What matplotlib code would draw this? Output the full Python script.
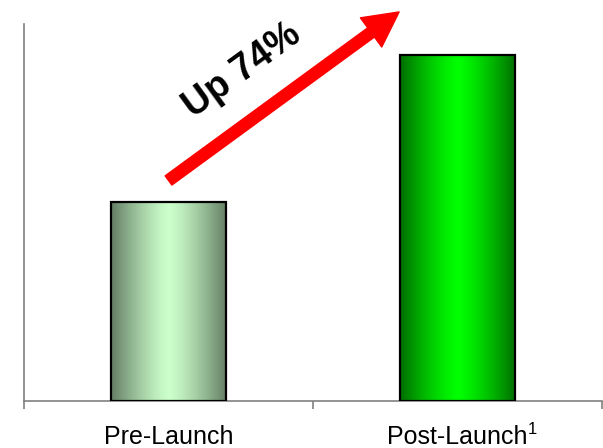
import numpy as np
import matplotlib
matplotlib.use("Agg")
import matplotlib.pyplot as plt
from matplotlib.colors import to_rgb

plt.rcParams['font.family'] = ['Liberation Sans', 'DejaVu Sans']

# data
categories = ["Pre-Launch", "Post-Launch"]
footnotes = ["", "1"]
values = [100, 174]
change_label = "Up 74%"

# gradient colours for each bar: (edge, centre)
bar_colors = [("#647d64", "#ccffcc"), ("#006e00", "#00ff00")]

fig = plt.figure(figsize=(6.03, 4.48), dpi=100)
ax = fig.add_axes([24 / 603, 1 - 401 / 448, 578 / 603, 377 / 448])

x = np.arange(len(categories))
width = 0.4
bars = ax.bar(x, values, width=width, facecolor="none", edgecolor="black",
              linewidth=1.6, zorder=3)

# horizontal two-tone gradient inside each bar
n = 256
t = np.abs(np.linspace(-1, 1, n))
for bar, (edge, centre) in zip(bars, bar_colors):
    e = np.array(to_rgb(edge))
    c = np.array(to_rgb(centre))
    grad = c[None, :] + (e - c)[None, :] * t[:, None] ** 1.3
    img = ax.imshow(grad[None, :, :], aspect="auto", interpolation="bilinear",
                    extent=(bar.get_x(), bar.get_x() + bar.get_width(),
                            0, bar.get_height()), zorder=2)
    img.set_clip_path(bar)

ax.set_xlim(-0.5, 1.5)
ax.set_ylim(0, values[0] * 377 / 199)

for side in ("top", "right"):
    ax.spines[side].set_visible(False)
for side in ("left", "bottom"):
    ax.spines[side].set_color("#808080")
    ax.spines[side].set_linewidth(1.2)

ax.set_yticks([])
ax.set_xticks([-0.5, 0.5, 1.5])
ax.set_xticklabels([])
ax.tick_params(axis="x", which="major", direction="out", length=6,
               width=1.2, color="#808080")
ax.set_xticks(x, minor=True)
labels = ax.set_xticklabels(categories, minor=True, fontsize=18)
ax.tick_params(axis="x", which="minor", length=0, pad=17)

# superscript footnote markers after the category names
for lab, note in zip(labels, footnotes):
    if note:
        ax.annotate(note, xy=(1.0, 1.1), xycoords=lab, ha="left", va="top",
                    fontsize=12, annotation_clip=False)

# growth arrow and label
ax.annotate("", xy=(0.649, 1.032), xytext=(0.250, 0.585),
            xycoords="axes fraction", textcoords="axes fraction",
            arrowprops=dict(arrowstyle="simple,head_length=25,head_width=26,tail_width=8.2",
                            mutation_scale=1, color="#ff0000", shrinkA=0, shrinkB=0),
            annotation_clip=False)
ax.text(0.377, 0.876, change_label, transform=ax.transAxes, rotation=36,
        rotation_mode="anchor", ha="center", va="center",
        fontsize=27, fontweight="bold", color="black")

fig.savefig("out.png", dpi=100)
